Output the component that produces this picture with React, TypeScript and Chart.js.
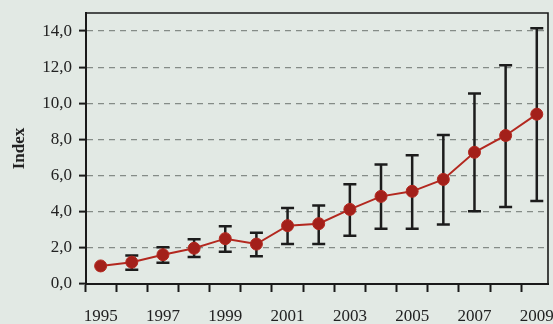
import React, { useEffect, useRef } from 'react';
import { Chart, registerables } from 'chart.js';

Chart.register(...registerables);

const years = [1995, 1996, 1997, 1998, 1999, 2000, 2001, 2002, 2003, 2004, 2005, 2006, 2007, 2008, 2009];
const indexValues = [1.0, 1.21, 1.62, 1.98, 2.51, 2.21, 3.23, 3.34, 4.13, 4.85, 5.13, 5.79, 7.29, 8.22, 9.4];
const errorLow = [1.0, 0.79, 1.18, 1.49, 1.78, 1.54, 2.21, 2.21, 2.67, 3.06, 3.06, 3.3, 4.02, 4.26, 4.59];
const errorHigh = [1.0, 1.58, 2.04, 2.48, 3.19, 2.84, 4.2, 4.35, 5.52, 6.62, 7.12, 8.25, 10.54, 12.11, 14.16];
const yTicks = [0, 2, 4, 6, 8, 10, 12, 14];
const yTitle = 'Index';

const BG = '#e2e9e4';
const FONT = '"Liberation Serif", "DejaVu Serif", serif';

const errorBarPlugin = {
  id: 'errorBars',
  beforeDatasetsDraw(chart: any) {
    const { ctx } = chart;
    const xs = chart.scales.x;
    const ys = chart.scales.y;
    ctx.save();
    ctx.strokeStyle = '#1c1c1c';
    ctx.lineWidth = 2.5;
    ctx.lineCap = 'butt';
    const cap = 6.5;
    for (let i = 0; i < years.length; i++) {
      if (errorHigh[i] === errorLow[i]) continue;
      const px = xs.getPixelForValue(years[i]);
      const yl = ys.getPixelForValue(errorLow[i]);
      const yh = ys.getPixelForValue(errorHigh[i]);
      ctx.beginPath();
      ctx.moveTo(px, yl);
      ctx.lineTo(px, yh);
      ctx.moveTo(px - cap, yl);
      ctx.lineTo(px + cap, yl);
      ctx.moveTo(px - cap, yh);
      ctx.lineTo(px + cap, yh);
      ctx.stroke();
    }
    ctx.restore();
  },
};

const framePlugin = {
  id: 'frame',
  afterDraw(chart: any) {
    const { ctx, chartArea } = chart;
    ctx.save();
    ctx.strokeStyle = '#1a1a1a';
    ctx.lineWidth = 1.6;
    ctx.beginPath();
    ctx.moveTo(chartArea.left, chartArea.top);
    ctx.lineTo(chartArea.right, chartArea.top);
    ctx.lineTo(chartArea.right, chartArea.bottom);
    ctx.stroke();
    ctx.restore();
  },
};

export default function App() {
  const canvasRef = useRef<HTMLCanvasElement | null>(null);

  useEffect(() => {
    if (!canvasRef.current) return;
    const chart = new Chart(canvasRef.current, {
      type: 'line',
      data: {
        datasets: [
          {
            label: yTitle,
            data: years.map((yr, i) => ({ x: yr, y: indexValues[i] })),
            borderColor: '#b3281f',
            borderWidth: 2,
            pointRadius: 6,
            pointBackgroundColor: '#a3201a',
            pointBorderColor: '#b3281f',
            pointBorderWidth: 1,
            tension: 0,
          },
        ],
      },
      options: {
        responsive: false,
        animation: false,
        layout: { autoPadding: false, padding: { top: 13, right: 5, left: 0, bottom: 0 } },
        plugins: {
          legend: { display: false },
          tooltip: { enabled: false },
        },
        scales: {
          x: {
            type: 'linear',
            min: 1994.53,
            max: 2009.36,
            grid: {
              display: true,
              drawOnChartArea: false,
              drawTicks: true,
              tickLength: 8,
              tickColor: '#1a1a1a',
              tickWidth: 2,
            },
            border: { display: true, color: '#1a1a1a', width: 2 },
            ticks: {
              autoSkip: false,
              maxRotation: 0,
              minRotation: 0,
              padding: 14,
              labelOffset: 15.6,
              color: '#222',
              font: { family: FONT, size: 17 },
              callback: (v: any) => {
                const yr = Math.round(Number(v) + 0.5);
                return (yr - years[0]) % 2 === 0 ? String(yr) : '';
              },
            },
            afterBuildTicks: (s: any) => {
              s.ticks = years.map((yr) => ({ value: yr - 0.5 }));
            },
            afterFit: (s: any) => {
              s.height = 40;
              s.paddingLeft = 0;
              s.paddingRight = 0;
            },
          },
          y: {
            type: 'linear',
            min: 0,
            max: 15,
            grid: {
              display: true,
              color: '#858c87',
              lineWidth: 1.2,
              borderDash: [6, 5],
              drawTicks: true,
              tickLength: 7,
              tickColor: '#1a1a1a',
              tickWidth: 2,
              tickBorderDash: [],
            },
            border: { display: true, color: '#1a1a1a', width: 2, dash: [6, 5] },
            ticks: {
              padding: 7,
              color: '#222',
              font: { family: FONT, size: 17 },
              callback: (v: any) => Number(v).toFixed(1).replace('.', ','),
            },
            afterBuildTicks: (s: any) => {
              s.ticks = yTicks.map((v) => ({ value: v }));
            },
            afterFit: (s: any) => {
              s.width = 86;
              s.paddingTop = 0;
              s.paddingBottom = 0;
            },
            title: {
              display: true,
              text: yTitle,
              color: '#222',
              font: { family: FONT, size: 17, weight: 'bold' },
              padding: { top: 9, bottom: 0 },
            },
          },
        },
      },
      plugins: [errorBarPlugin, framePlugin],
    } as any);
    return () => chart.destroy();
  }, []);

  return (
    <div style={{ position: 'absolute', left: 0, top: 0, width: 553, height: 324, background: BG, overflow: 'hidden' }}>
      <canvas ref={canvasRef} width={553} height={324} style={{ display: 'block' }} />
    </div>
  );
}
